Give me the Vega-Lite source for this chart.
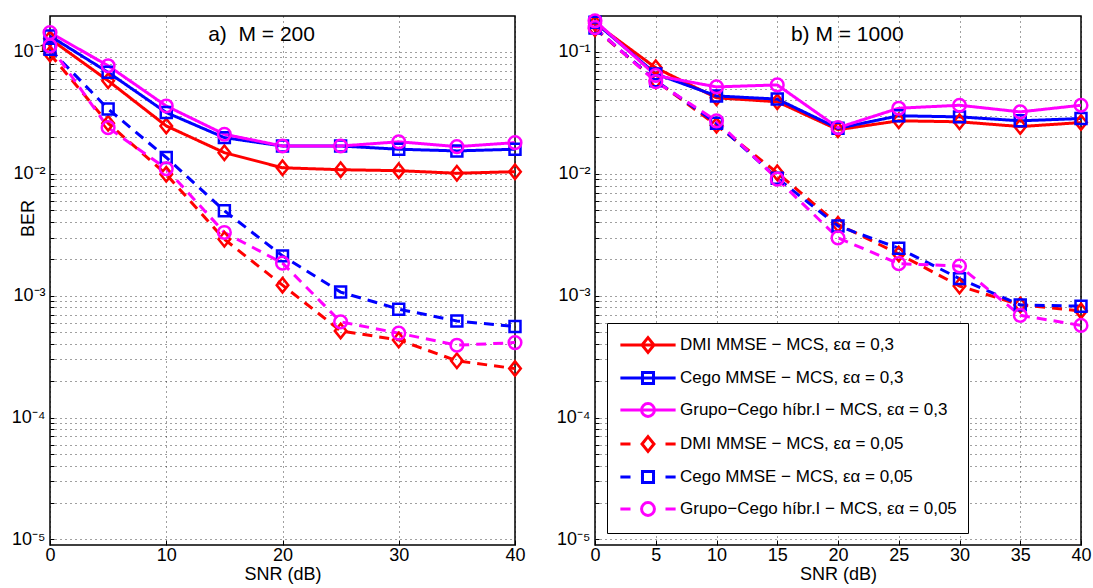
{
"$schema": "https://vega.github.io/schema/vega-lite/v6.json",
"padding": {"left": 10, "top": 8, "right": 5, "bottom": 3},
"background": "white",
"config": {
  "font": "Liberation Sans",
  "view": {"stroke": "black", "strokeWidth": 1.5},
  "axis": {"labelFontSize": 18, "titleFontSize": 18, "titleFontWeight": "normal", "labelColor": "black", "titleColor": "black", "grid": true, "gridColor": "black", "gridDash": [1, 4], "gridOpacity": 0.75, "tickColor": "black", "domain": false, "labelFont": "Liberation Sans", "titleFont": "Liberation Sans", "labelOverlap": false, "labelBound": false, "labelFlush": false},
  "legend": {"labelFont": "Liberation Sans", "labelFontSize": 17, "labelColor": "black", "labelLimit": 500}
},
"data": {"values": [
{"p":"a","s":"DMI MMSE − MCS, εα = 0,3","x":0,"y":0.128},{"p":"a","s":"DMI MMSE − MCS, εα = 0,3","x":5,"y":0.058},{"p":"a","s":"DMI MMSE − MCS, εα = 0,3","x":10,"y":0.0247},{"p":"a","s":"DMI MMSE − MCS, εα = 0,3","x":15,"y":0.0149},{"p":"a","s":"DMI MMSE − MCS, εα = 0,3","x":20,"y":0.0112},{"p":"a","s":"DMI MMSE − MCS, εα = 0,3","x":25,"y":0.0108},{"p":"a","s":"DMI MMSE − MCS, εα = 0,3","x":30,"y":0.0106},{"p":"a","s":"DMI MMSE − MCS, εα = 0,3","x":35,"y":0.0101},{"p":"a","s":"DMI MMSE − MCS, εα = 0,3","x":40,"y":0.0104},
{"p":"a","s":"Cego MMSE − MCS, εα = 0,3","x":0,"y":0.135},{"p":"a","s":"Cego MMSE − MCS, εα = 0,3","x":5,"y":0.068},{"p":"a","s":"Cego MMSE − MCS, εα = 0,3","x":10,"y":0.0318},{"p":"a","s":"Cego MMSE − MCS, εα = 0,3","x":15,"y":0.0198},{"p":"a","s":"Cego MMSE − MCS, εα = 0,3","x":20,"y":0.0169},{"p":"a","s":"Cego MMSE − MCS, εα = 0,3","x":25,"y":0.0169},{"p":"a","s":"Cego MMSE − MCS, εα = 0,3","x":30,"y":0.0159},{"p":"a","s":"Cego MMSE − MCS, εα = 0,3","x":35,"y":0.0154},{"p":"a","s":"Cego MMSE − MCS, εα = 0,3","x":40,"y":0.0159},
{"p":"a","s":"Grupo−Cego híbr.I − MCS, εα = 0,3","x":0,"y":0.144},{"p":"a","s":"Grupo−Cego híbr.I − MCS, εα = 0,3","x":5,"y":0.077},{"p":"a","s":"Grupo−Cego híbr.I − MCS, εα = 0,3","x":10,"y":0.036},{"p":"a","s":"Grupo−Cego híbr.I − MCS, εα = 0,3","x":15,"y":0.0211},{"p":"a","s":"Grupo−Cego híbr.I − MCS, εα = 0,3","x":20,"y":0.0169},{"p":"a","s":"Grupo−Cego híbr.I − MCS, εα = 0,3","x":25,"y":0.0169},{"p":"a","s":"Grupo−Cego híbr.I − MCS, εα = 0,3","x":30,"y":0.0183},{"p":"a","s":"Grupo−Cego híbr.I − MCS, εα = 0,3","x":35,"y":0.0167},{"p":"a","s":"Grupo−Cego híbr.I − MCS, εα = 0,3","x":40,"y":0.018},
{"p":"a","s":"DMI MMSE − MCS, εα = 0,05","x":0,"y":0.096},{"p":"a","s":"DMI MMSE − MCS, εα = 0,05","x":5,"y":0.026},{"p":"a","s":"DMI MMSE − MCS, εα = 0,05","x":10,"y":0.0099},{"p":"a","s":"DMI MMSE − MCS, εα = 0,05","x":15,"y":0.0029},{"p":"a","s":"DMI MMSE − MCS, εα = 0,05","x":20,"y":0.00122},{"p":"a","s":"DMI MMSE − MCS, εα = 0,05","x":25,"y":0.000514},{"p":"a","s":"DMI MMSE − MCS, εα = 0,05","x":30,"y":0.000433},{"p":"a","s":"DMI MMSE − MCS, εα = 0,05","x":35,"y":0.000292},{"p":"a","s":"DMI MMSE − MCS, εα = 0,05","x":40,"y":0.000252},
{"p":"a","s":"Cego MMSE − MCS, εα = 0,05","x":0,"y":0.105},{"p":"a","s":"Cego MMSE − MCS, εα = 0,05","x":5,"y":0.034},{"p":"a","s":"Cego MMSE − MCS, εα = 0,05","x":10,"y":0.0136},{"p":"a","s":"Cego MMSE − MCS, εα = 0,05","x":15,"y":0.00497},{"p":"a","s":"Cego MMSE − MCS, εα = 0,05","x":20,"y":0.00212},{"p":"a","s":"Cego MMSE − MCS, εα = 0,05","x":25,"y":0.00107},{"p":"a","s":"Cego MMSE − MCS, εα = 0,05","x":30,"y":0.000775},{"p":"a","s":"Cego MMSE − MCS, εα = 0,05","x":35,"y":0.00062},{"p":"a","s":"Cego MMSE − MCS, εα = 0,05","x":40,"y":0.000558},
{"p":"a","s":"Grupo−Cego híbr.I − MCS, εα = 0,05","x":0,"y":0.112},{"p":"a","s":"Grupo−Cego híbr.I − MCS, εα = 0,05","x":5,"y":0.0239},{"p":"a","s":"Grupo−Cego híbr.I − MCS, εα = 0,05","x":10,"y":0.011},{"p":"a","s":"Grupo−Cego híbr.I − MCS, εα = 0,05","x":15,"y":0.0033},{"p":"a","s":"Grupo−Cego híbr.I − MCS, εα = 0,05","x":20,"y":0.00185},{"p":"a","s":"Grupo−Cego híbr.I − MCS, εα = 0,05","x":25,"y":0.00061},{"p":"a","s":"Grupo−Cego híbr.I − MCS, εα = 0,05","x":30,"y":0.000492},{"p":"a","s":"Grupo−Cego híbr.I − MCS, εα = 0,05","x":35,"y":0.000392},{"p":"a","s":"Grupo−Cego híbr.I − MCS, εα = 0,05","x":40,"y":0.000412},
{"p":"b","s":"DMI MMSE − MCS, εα = 0,3","x":0,"y":0.172},{"p":"b","s":"DMI MMSE − MCS, εα = 0,3","x":5,"y":0.074},{"p":"b","s":"DMI MMSE − MCS, εα = 0,3","x":10,"y":0.042},{"p":"b","s":"DMI MMSE − MCS, εα = 0,3","x":15,"y":0.039},{"p":"b","s":"DMI MMSE − MCS, εα = 0,3","x":20,"y":0.023},{"p":"b","s":"DMI MMSE − MCS, εα = 0,3","x":25,"y":0.0272},{"p":"b","s":"DMI MMSE − MCS, εα = 0,3","x":30,"y":0.0267},{"p":"b","s":"DMI MMSE − MCS, εα = 0,3","x":35,"y":0.0244},{"p":"b","s":"DMI MMSE − MCS, εα = 0,3","x":40,"y":0.0263},
{"p":"b","s":"Cego MMSE − MCS, εα = 0,3","x":0,"y":0.175},{"p":"b","s":"Cego MMSE − MCS, εα = 0,3","x":5,"y":0.066},{"p":"b","s":"Cego MMSE − MCS, εα = 0,3","x":10,"y":0.0435},{"p":"b","s":"Cego MMSE − MCS, εα = 0,3","x":15,"y":0.041},{"p":"b","s":"Cego MMSE − MCS, εα = 0,3","x":20,"y":0.0236},{"p":"b","s":"Cego MMSE − MCS, εα = 0,3","x":25,"y":0.0299},{"p":"b","s":"Cego MMSE − MCS, εα = 0,3","x":30,"y":0.0293},{"p":"b","s":"Cego MMSE − MCS, εα = 0,3","x":35,"y":0.0272},{"p":"b","s":"Cego MMSE − MCS, εα = 0,3","x":40,"y":0.0284},
{"p":"b","s":"Grupo−Cego híbr.I − MCS, εα = 0,3","x":0,"y":0.18},{"p":"b","s":"Grupo−Cego híbr.I − MCS, εα = 0,3","x":5,"y":0.064},{"p":"b","s":"Grupo−Cego híbr.I − MCS, εα = 0,3","x":10,"y":0.0516},{"p":"b","s":"Grupo−Cego híbr.I − MCS, εα = 0,3","x":15,"y":0.0536},{"p":"b","s":"Grupo−Cego híbr.I − MCS, εα = 0,3","x":20,"y":0.0239},{"p":"b","s":"Grupo−Cego híbr.I − MCS, εα = 0,3","x":25,"y":0.0345},{"p":"b","s":"Grupo−Cego híbr.I − MCS, εα = 0,3","x":30,"y":0.0365},{"p":"b","s":"Grupo−Cego híbr.I − MCS, εα = 0,3","x":35,"y":0.0322},{"p":"b","s":"Grupo−Cego híbr.I − MCS, εα = 0,3","x":40,"y":0.0365},
{"p":"b","s":"DMI MMSE − MCS, εα = 0,05","x":0,"y":0.155},{"p":"b","s":"DMI MMSE − MCS, εα = 0,05","x":5,"y":0.058},{"p":"b","s":"DMI MMSE − MCS, εα = 0,05","x":10,"y":0.025},{"p":"b","s":"DMI MMSE − MCS, εα = 0,05","x":15,"y":0.0102},{"p":"b","s":"DMI MMSE − MCS, εα = 0,05","x":20,"y":0.00385},{"p":"b","s":"DMI MMSE − MCS, εα = 0,05","x":25,"y":0.0022},{"p":"b","s":"DMI MMSE − MCS, εα = 0,05","x":30,"y":0.0012},{"p":"b","s":"DMI MMSE − MCS, εα = 0,05","x":35,"y":0.00084},{"p":"b","s":"DMI MMSE − MCS, εα = 0,05","x":40,"y":0.00075},
{"p":"b","s":"Cego MMSE − MCS, εα = 0,05","x":0,"y":0.157},{"p":"b","s":"Cego MMSE − MCS, εα = 0,05","x":5,"y":0.058},{"p":"b","s":"Cego MMSE − MCS, εα = 0,05","x":10,"y":0.026},{"p":"b","s":"Cego MMSE − MCS, εα = 0,05","x":15,"y":0.0092},{"p":"b","s":"Cego MMSE − MCS, εα = 0,05","x":20,"y":0.00373},{"p":"b","s":"Cego MMSE − MCS, εα = 0,05","x":25,"y":0.00245},{"p":"b","s":"Cego MMSE − MCS, εα = 0,05","x":30,"y":0.00138},{"p":"b","s":"Cego MMSE − MCS, εα = 0,05","x":35,"y":0.00084},{"p":"b","s":"Cego MMSE − MCS, εα = 0,05","x":40,"y":0.00082},
{"p":"b","s":"Grupo−Cego híbr.I − MCS, εα = 0,05","x":0,"y":0.158},{"p":"b","s":"Grupo−Cego híbr.I − MCS, εα = 0,05","x":5,"y":0.057},{"p":"b","s":"Grupo−Cego híbr.I − MCS, εα = 0,05","x":10,"y":0.0272},{"p":"b","s":"Grupo−Cego híbr.I − MCS, εα = 0,05","x":15,"y":0.00903},{"p":"b","s":"Grupo−Cego híbr.I − MCS, εα = 0,05","x":20,"y":0.00298},{"p":"b","s":"Grupo−Cego híbr.I − MCS, εα = 0,05","x":25,"y":0.00183},{"p":"b","s":"Grupo−Cego híbr.I − MCS, εα = 0,05","x":30,"y":0.00175},{"p":"b","s":"Grupo−Cego híbr.I − MCS, εα = 0,05","x":35,"y":0.00069},{"p":"b","s":"Grupo−Cego híbr.I − MCS, εα = 0,05","x":40,"y":0.00057}
]},
"spacing": 80,
"bounds": "flush",
"resolve": {"scale": {"color": "independent", "shape": "independent"}, "legend": {"color": "independent", "shape": "independent"}},
"hconcat": [
{
  "width": 465, "height": 529,
  "transform": [{"filter": "datum.p == 'a'"}],
  "encoding": {
    "x": {"field": "x", "type": "quantitative", "title": "SNR (dB)", "scale": {"domain": [0, 40], "nice": false},
      "axis": {"values": [0, 10, 20, 30, 40], "tickSize": -5, "labelPadding": 6, "titleY": 20, "titleBaseline": "top"}},
    "y": {"field": "y", "type": "quantitative", "title": "BER", "scale": {"type": "log", "domain": [0.000009, 0.197], "nice": false},
      "axis": {"values": [0.00001,0.00002,0.00003,0.00004,0.00005,0.00006,0.00007,0.00008,0.00009,0.0001,0.0002,0.0003,0.0004,0.0005,0.0006,0.0007,0.0008,0.0009,0.001,0.002,0.003,0.004,0.005,0.006,0.007,0.008,0.009,0.01,0.02,0.03,0.04,0.05,0.06,0.07,0.08,0.09,0.1],
        "tickSize": -4, "labelPadding": 9,
        "labelExpr": "abs(log(datum.value)/LN10 - round(log(datum.value)/LN10)) < 0.01 ? '10' + ['⁰','⁻¹','⁻²','⁻³','⁻⁴','⁻⁵'][-round(log(datum.value)/LN10)] : ''",
        "titleX": -17, "titleY": 202, "titleBaseline": "alphabetic"}}
  },
  "layer": [
    {"mark": {"type": "line", "strokeWidth": 3},
     "encoding": {
       "stroke": {"field": "s", "type": "nominal", "legend": null, "scale": {"domain": ["DMI MMSE − MCS, εα = 0,3","Cego MMSE − MCS, εα = 0,3","Grupo−Cego híbr.I − MCS, εα = 0,3","DMI MMSE − MCS, εα = 0,05","Cego MMSE − MCS, εα = 0,05","Grupo−Cego híbr.I − MCS, εα = 0,05"], "range": ["#ff0000","#0000ff","#ff00ff","#ff0000","#0000ff","#ff00ff"]}},
       "strokeDash": {"field": "s", "type": "nominal", "legend": null, "scale": {"domain": ["DMI MMSE − MCS, εα = 0,3","Cego MMSE − MCS, εα = 0,3","Grupo−Cego híbr.I − MCS, εα = 0,3","DMI MMSE − MCS, εα = 0,05","Cego MMSE − MCS, εα = 0,05","Grupo−Cego híbr.I − MCS, εα = 0,05"], "range": [[1,0],[1,0],[1,0],[10,7],[10,7],[10,7]]}}
     }},
    {"transform": [{"filter": "indexof(datum.s, 'DMI') == 0"}],
     "mark": {"type": "point", "shape": "M0,-1L0.8,0L0,1L-0.8,0Z", "filled": false, "size": 210, "strokeWidth": 2.5, "opacity": 1},
     "encoding": {"stroke": {"field": "s", "type": "nominal", "legend": null}}},
    {"transform": [{"filter": "indexof(datum.s, 'Cego MMSE') == 0"}],
     "mark": {"type": "point", "shape": "square", "filled": false, "size": 120, "strokeWidth": 2.5, "opacity": 1},
     "encoding": {"stroke": {"field": "s", "type": "nominal", "legend": null}}},
    {"transform": [{"filter": "indexof(datum.s, 'Grupo') == 0"}],
     "mark": {"type": "point", "shape": "circle", "filled": false, "size": 160, "strokeWidth": 2.5, "opacity": 1},
     "encoding": {"stroke": {"field": "s", "type": "nominal", "legend": null}}},
    {"transform": [{"filter": "datum.x == 0 && indexof(datum.s, 'DMI MMSE − MCS, εα = 0,3') == 0"}],
     "mark": {"type": "text", "text": "a)\u00a0 M = 200", "font": "Liberation Sans", "fontSize": 21, "baseline": "alphabetic", "align": "center", "fill": "black"},
     "encoding": {"x": {"datum": 18.2, "type": "quantitative"}, "y": {"datum": 0.122, "type": "quantitative"}}}
  ]
},
{
  "width": 486, "height": 529,
  "transform": [{"filter": "datum.p == 'b'"}],
  "encoding": {
    "x": {"field": "x", "type": "quantitative", "title": "SNR (dB)", "scale": {"domain": [0, 40], "nice": false},
      "axis": {"values": [0, 5, 10, 15, 20, 25, 30, 35, 40], "tickSize": -5, "labelPadding": 6, "titleY": 20, "titleBaseline": "top"}},
    "y": {"field": "y", "type": "quantitative", "title": null, "scale": {"type": "log", "domain": [0.000009, 0.197], "nice": false},
      "axis": {"values": [0.00001,0.00002,0.00003,0.00004,0.00005,0.00006,0.00007,0.00008,0.00009,0.0001,0.0002,0.0003,0.0004,0.0005,0.0006,0.0007,0.0008,0.0009,0.001,0.002,0.003,0.004,0.005,0.006,0.007,0.008,0.009,0.01,0.02,0.03,0.04,0.05,0.06,0.07,0.08,0.09,0.1],
        "tickSize": -4, "labelPadding": 9,
        "labelExpr": "abs(log(datum.value)/LN10 - round(log(datum.value)/LN10)) < 0.01 ? '10' + ['⁰','⁻¹','⁻²','⁻³','⁻⁴','⁻⁵'][-round(log(datum.value)/LN10)] : ''"}}
  },
  "layer": [
    {"mark": {"type": "line", "strokeWidth": 3},
     "encoding": {
       "stroke": {"field": "s", "type": "nominal", "legend": null, "scale": {"domain": ["DMI MMSE − MCS, εα = 0,3","Cego MMSE − MCS, εα = 0,3","Grupo−Cego híbr.I − MCS, εα = 0,3","DMI MMSE − MCS, εα = 0,05","Cego MMSE − MCS, εα = 0,05","Grupo−Cego híbr.I − MCS, εα = 0,05"], "range": ["#ff0000","#0000ff","#ff00ff","#ff0000","#0000ff","#ff00ff"]}},
       "strokeDash": {"field": "s", "type": "nominal", "legend": null, "scale": {"domain": ["DMI MMSE − MCS, εα = 0,3","Cego MMSE − MCS, εα = 0,3","Grupo−Cego híbr.I − MCS, εα = 0,3","DMI MMSE − MCS, εα = 0,05","Cego MMSE − MCS, εα = 0,05","Grupo−Cego híbr.I − MCS, εα = 0,05"], "range": [[1,0],[1,0],[1,0],[10,7],[10,7],[10,7]]}}
     }},
    {"transform": [{"filter": "indexof(datum.s, 'DMI') == 0"}],
     "mark": {"type": "point", "shape": "M0,-1L0.8,0L0,1L-0.8,0Z", "filled": false, "size": 210, "strokeWidth": 2.5, "opacity": 1},
     "encoding": {"stroke": {"field": "s", "type": "nominal", "legend": null}}},
    {"transform": [{"filter": "indexof(datum.s, 'Cego MMSE') == 0"}],
     "mark": {"type": "point", "shape": "square", "filled": false, "size": 120, "strokeWidth": 2.5, "opacity": 1},
     "encoding": {"stroke": {"field": "s", "type": "nominal", "legend": null}}},
    {"transform": [{"filter": "indexof(datum.s, 'Grupo') == 0"}],
     "mark": {"type": "point", "shape": "circle", "filled": false, "size": 160, "strokeWidth": 2.5, "opacity": 1},
     "encoding": {"stroke": {"field": "s", "type": "nominal", "legend": null}}},
    {"transform": [{"filter": "datum.x == 0 && indexof(datum.s, 'DMI MMSE − MCS, εα = 0,3') == 0"}],
     "mark": {"type": "text", "text": "b) M = 1000", "font": "Liberation Sans", "fontSize": 21, "baseline": "alphabetic", "align": "center", "fill": "black"},
     "encoding": {"x": {"datum": 20.76, "type": "quantitative"}, "y": {"datum": 0.122, "type": "quantitative"}}},
    {"transform": [{"filter": "false"}],
     "mark": {"type": "point", "filled": false, "strokeWidth": 3, "opacity": 1},
     "encoding": {
       "color": {"field": "s", "type": "nominal",
         "scale": {"domain": ["DMI MMSE − MCS, εα = 0,3","Cego MMSE − MCS, εα = 0,3","Grupo−Cego híbr.I − MCS, εα = 0,3","DMI MMSE − MCS, εα = 0,05","Cego MMSE − MCS, εα = 0,05","Grupo−Cego híbr.I − MCS, εα = 0,05"], "range": ["#ff0000","#0000ff","#ff00ff","#ff0000","#0000ff","#ff00ff"]},
         "legend": {"orient": "none", "legendX": 12, "legendY": 307, "title": null, "padding": 11, "strokeColor": "black", "fillColor": "white", "cornerRadius": 0, "symbolSize": 339, "symbolStrokeWidth": 3, "symbolOffset": 19, "labelOffset": 21, "rowPadding": 7, "symbolOpacity": 1}},
       "shape": {"field": "s", "type": "nominal",
         "scale": {"domain": ["DMI MMSE − MCS, εα = 0,3","Cego MMSE − MCS, εα = 0,3","Grupo−Cego híbr.I − MCS, εα = 0,3","DMI MMSE − MCS, εα = 0,05","Cego MMSE − MCS, εα = 0,05","Grupo−Cego híbr.I − MCS, εα = 0,05"],
           "range": ["M-3,0H3M0,-0.8L0.65,0L0,0.8L-0.65,0Z", "M-3,0H3M-0.6,-0.6H0.6V0.6H-0.6Z", "M-3,0H3M-0.7,0A0.7,0.7,0,1,0,0.7,0A0.7,0.7,0,1,0,-0.7,0Z", "M-3,0H-1.9M1.9,0H3M0,-0.8L0.65,0L0,0.8L-0.65,0Z", "M-3,0H-1.9M1.9,0H3M-0.6,-0.6H0.6V0.6H-0.6Z", "M-3,0H-1.9M1.9,0H3M-0.7,0A0.7,0.7,0,1,0,0.7,0A0.7,0.7,0,1,0,-0.7,0Z"]},
         "legend": {"orient": "none", "legendX": 12, "legendY": 307, "title": null, "padding": 11, "strokeColor": "black", "fillColor": "white", "cornerRadius": 0, "symbolSize": 339, "symbolStrokeWidth": 3, "symbolOffset": 19, "labelOffset": 21, "rowPadding": 7, "symbolOpacity": 1}}
     }}
  ]
}
]
}
